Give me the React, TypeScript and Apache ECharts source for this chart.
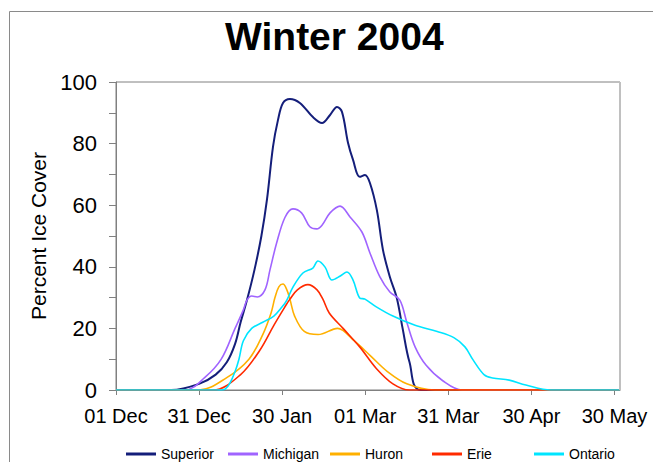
import React, { useEffect, useRef } from "react";
import * as echarts from "echarts";

// Day 0 = 01 Dec; tick every 30 days
const tickLabels = ["01 Dec", "31 Dec", "30 Jan", "01 Mar", "31 Mar", "30 Apr", "30 May"];
const seriesNames = ["Superior", "Michigan", "Huron", "Erie", "Ontario"];
const seriesColors = ["#141e7a", "#a064ff", "#ffb000", "#ff2a00", "#00e5ff"];

const superiorDays = [0, 20, 30, 36, 40, 43, 45, 47.3, 50, 52.5, 54.5, 56.7, 58.5, 60.3, 62.8, 66.4, 71.1, 74.4, 77.3, 79.8, 81.6, 83.8, 85.6, 88, 89.9, 91.7, 94.2, 96.4, 98.9, 101.4, 103.5, 106, 110, 182];
const superiorValues = [0, 0, 2, 5, 9, 15, 22, 29.2, 39, 50, 61.7, 79, 87.7, 93.2, 94.5, 93.2, 88.6, 86.7, 89.3, 91.9, 90.3, 80.2, 74.7, 69.2, 69.8, 67.2, 58.4, 45.5, 36.7, 29.9, 20, 9, 0, 0];

const michiganDays = [0, 25, 32, 38, 43, 46, 47.3, 49, 51, 53.8, 55.6, 58, 61, 63.9, 67, 70, 72.5, 74.4, 77.3, 80.9, 84.5, 88.8, 91.7, 95.3, 98.9, 102.5, 105, 108, 112, 118, 125, 182];
const michiganValues = [0, 0, 4, 10, 20, 26, 29.2, 30.5, 30.2, 32.5, 39, 47.7, 56, 58.8, 57.5, 53, 52.3, 53.5, 57.5, 59.7, 56.2, 51.3, 44.5, 36.7, 31.8, 29.2, 22, 14, 8, 3, 0, 0];

const huronDays = [0, 30, 40, 48, 53, 56, 57.4, 58.8, 60.3, 61.7, 62.8, 64.5, 68, 73, 80, 86, 92, 98, 105, 115, 182];
const huronValues = [0, 0, 4, 10, 18, 25, 30, 33.5, 34.4, 32.5, 29.5, 24, 19, 18, 20, 16, 11, 6, 2, 0, 0];

const erieDays = [0, 35, 45, 52, 57, 61, 62.8, 65.5, 69.3, 72.6, 74.7, 77, 82, 88, 94, 100, 106, 182];
const erieValues = [0, 0, 5, 13, 21, 27, 29.5, 32.5, 34.2, 32.5, 29.5, 25, 20, 14, 7, 2, 0, 0];

const ontarioDays = [0, 38, 39.4, 41, 43, 44.4, 46, 49, 53, 57, 60, 61.7, 63.9, 67.5, 71.1, 72.9, 75.5, 78, 81, 83.4, 85.6, 88, 89.9, 94, 100, 108, 116, 122, 126, 129, 133, 136, 142, 148, 157, 182];
const ontarioValues = [0, 0, 0.3, 2, 6, 10, 16, 20, 22, 24, 27, 29.2, 33.4, 38, 39.6, 41.9, 39.9, 35.7, 37, 38.3, 35.7, 29.9, 29.5, 27, 24, 21, 19, 17, 14, 9.7, 4.9, 3.9, 3.2, 1.6, 0, 0];

const allDays = [superiorDays, michiganDays, huronDays, erieDays, ontarioDays];
const allValues = [superiorValues, michiganValues, huronValues, erieValues, ontarioValues];

const FONT = "Liberation Sans, Arial, sans-serif";

export default function App() {
  const ref = useRef<HTMLDivElement>(null);
  useEffect(() => {
    if (!ref.current) return;
    const chart = echarts.init(ref.current, null, { renderer: "svg" });
    const series = seriesNames.map((name, i) => ({
      name,
      type: "line",
      smooth: 0.35,
      showSymbol: false,
      symbol: "none",
      color: seriesColors[i],
      lineStyle: { width: i === 0 ? 2 : 1.6, color: seriesColors[i] },
      data: allDays[i].map((d, j) => [d, allValues[i][j]]),
    }));
    chart.setOption({
      animation: false,
      backgroundColor: "#ffffff",
      title: {
        text: "Winter 2004",
        left: 220,
        top: 12,
        textStyle: { fontSize: 39, fontWeight: "bold", fontFamily: FONT, color: "#000" },
      },
      grid: { left: 116, right: 33, top: 82, bottom: 72, show: true, borderColor: "#808080", borderWidth: 1 },
      legend: {
        left: 121,
        top: 441,
        padding: 5,
        icon: "rect",
        itemWidth: 30,
        itemHeight: 3,
        itemGap: 5,
        textStyle: { fontSize: 14, color: "#000", fontFamily: FONT, width: 62, lineHeight: 16 },
        data: seriesNames,
      },
      xAxis: {
        type: "value",
        min: 0,
        max: 182,
        interval: 30,
        axisLine: { show: true, lineStyle: { color: "#808080" } },
        axisTick: { show: true, length: 5, lineStyle: { color: "#808080" } },
        splitLine: { show: false },
        axisLabel: {
          fontSize: 20,
          color: "#000",
          fontFamily: FONT,
          margin: 16,
          showMaxLabel: false,
          formatter: (v: number) => (v % 30 === 0 ? tickLabels[v / 30] ?? "" : ""),
        },
      },
      yAxis: {
        type: "value",
        min: 0,
        max: 100,
        interval: 20,
        name: "Percent Ice Cover",
        nameLocation: "middle",
        nameGap: 66,
        nameRotate: 90,
        nameTextStyle: { fontSize: 21, color: "#000", fontFamily: FONT },
        axisLine: { show: true, lineStyle: { color: "#808080" } },
        axisTick: { show: true, length: 7, lineStyle: { color: "#808080" } },
        minorTick: { show: true, splitNumber: 2, length: 7, lineStyle: { color: "#808080" } },
        splitLine: { show: false },
        axisLabel: { fontSize: 22, color: "#000", fontFamily: FONT, margin: 19 },
      },
      graphic: [
        {
          type: "rect",
          z: 100,
          shape: { x: 9.5, y: 11.5, width: 700, height: 500 },
          style: { fill: "none", stroke: "#8a8a8a", lineWidth: 1 },
        },
        {
          type: "rect",
          z: 100,
          shape: { x: 619, y: 82, width: 2, height: 308 },
          style: { fill: "#c0c0c0" },
        },
      ],
      series,
    });
    return () => chart.dispose();
  }, []);
  return (
    <div
      ref={ref}
      style={{ position: "fixed", left: 0, top: 0, width: 653, height: 462, background: "#fff" }}
    />
  );
}
